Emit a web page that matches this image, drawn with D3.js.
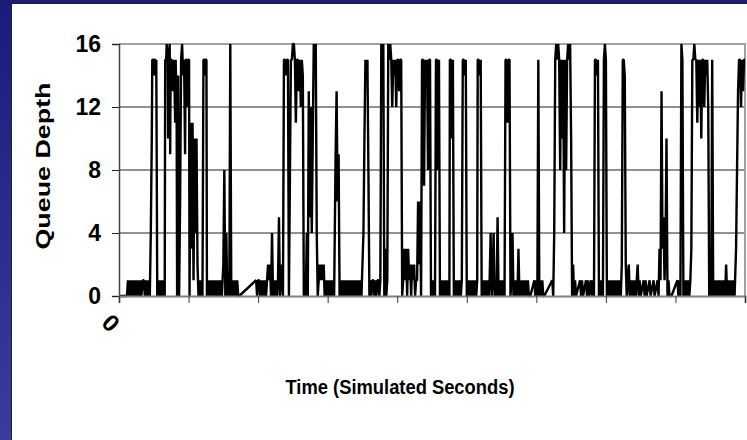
<!DOCTYPE html>
<html>
<head>
<meta charset="utf-8">
<script src="https://cdn.jsdelivr.net/npm/d3@7"></script>
<style>
  html, body { margin: 0; padding: 0; background: #fff; }
  svg { display: block; }
  text { font-family: "Liberation Sans", Arial, sans-serif; font-weight: bold; fill: #000; }
</style>
</head>
<body>
<svg id="chart" width="747" height="440"></svg>
<script>
// queue depth samples, [time, depth]
const span1 = [
  [0,0],[8,0],[9,1],[10,0],[11.5,1],[12.5,0],[14,1],[15,0],[16.5,1],[17.5,0],[19,1],[20,0],[21.5,1],[22.5,0],[24,1],[25,1],[26,0],[27.5,1],[28.5,0],[30,1],[31,0],
  [32,4],[33,10],[33.5,15],[34.5,15],[35,14],[35.5,15],[36.5,15],[37,14],[37.5,15],[38,8],[38.5,0],
  [40,1],[41,0],[42.5,1],[43.5,0],[45,1],[46,0],
  [46.5,15],[47.5,15],[48,16],[49,15],[49.5,10],[50,15],[51,16],[51.5,9],[52,15],[53,15],[53.5,13],[54,15],[55,14],[55.5,15],[56.5,11],[57,15],[58,12],[58.5,0],
  [59.5,14],[60.5,0],[61.5,6],[62.5,15],[63.5,16],[64,15],[65,14],[65.5,15],[66.5,9],[67,15],[68,15],[68.5,12],[69.5,15],[70.5,15],[71,0],
  [72,11],[73,3],[74,11],[75,1],[76,10],[77,4],[78,10],[79,2],[80,0],
  [81,1],[82,0],[83,1],[84,0],
  [85,15],[86,15],[86.5,14],[87,15],[88,15],[88.5,0],
  [90,1],[91,0],[92.5,1],[93.5,0],[95,1],[96,0],[97.5,1],[98.5,0],[100,1],[101,0],[102.5,1],[103.5,0],[105,2],[106,8],[107,0],[108,4],[109,0],[110,1],[111,0],[112,16],[113,0],
  [114,1],[115,0],[116.5,1],[117.5,0],[119,1],[120,0],[121,0]
];
const span2 = [
  [138,1],[139,0],[140,1],[141,1],[142,0],[143,1],[144,0],[145,1],[146,0],[147,1],[148,0],[149,1],[150,2],[151,1],[152,2],[153,0],[154,4],[155,0],
  [156,1],[157,0],[158,1],[159,0],[160,1],[161,5],[162,0],[163,1],[164,2],[165,0],
  [166,15],[167,15],[168,14],[169,15],[170,15],[171,0],
  [173,15],[174,15],[175,16],[176,16],[177,15],[178,11],[179,15],[180,15],[181,13],[182,15],[183,12],[184,15],[185,14],[186,0],
  [187,1],[188,0],[189,4],[190,0],[191,13],[192,5],[193,12],[194,4],[195,10],
  [196,16],[197,15],[198,16],[199,4],[200,0],[201,1],
  [202,2],[203,1],[204,2],[205,1],[206,2],[207,0],
  [208,1],[209,0],[210.5,1],[211.5,0],[213,1],[214,0],[215.5,1],[216.5,0],
  [218,9],[219,13],[220,6],[221,9],[222,0],
  [223,1],[224,0],[225.5,1],[226.5,0],[228,1],[229,0],[230.5,1],[231.5,0],[233,1],[234,0],[235.5,1],[236.5,0],[238,1],[239,0],[240.5,1],[241.5,0],[243,1],[244,0],
  [246,4],[247,10],[248,15],[249,14],[250,15],[251,8]
];
const span3 = [
  [252,0],[253,1],[254,0],[255,1],[256,1],[257,0],[258,1],[259,0],[260,1],[261,1],[262,0],[263,1],
  [264,16],[265,15],[266,16],[267,0],[268,3],[269,0],[270,1],
  [271,16],[272,15],[273,16],[274,15],[275,12],[276,15],[277,14],[278,15],[279,12],[280,15],[281,15],[282,13],[283,15],[284,15],[285,0],[286,1],
  [287,3],[288,1],[289,3],[290,0],[291,3],[292,1],[293,2],[294,0],[295,2],[296,1],[297,2],[298,0],[299,1],[300,1],
  [301,6],[302,2],[303,6],[304,0],
  [305,15],[306,15],[307,7],[308,15],[309,14],[310,15],[311,8],[312,15],[313,15],[314,0],
  [315,1],[316,0],[317,1],[318,0],
  [319,15],[320,15],[321,8],[322,15],[323,0],
  [324,1],[325,0],[326.5,1],[327.5,0],[329,1],[330,0],[331.5,1],[332.5,0],
  [333,15],[334,15],[335,10],[336,15],[337,0],
  [338,1],[339,0],[340.5,1],[341.5,0],[343,1],[344,0],[345,1],
  [346,15],[347,15],[348,14],[349,15],[350,0],
  [351,1],[352,0],[353.5,1],[354.5,0],[356,1],[357,0],[358.5,1],[359.5,0],[360.5,1],
  [361,15],[362,15],[363,14],[364,15],[365,0],
  [366,1],[367,0],[368.5,1],[369.5,0],[371,1],[372,0],[373,1],[374,4],[375,0]
];
const span4 = [
  [376,1],[377,4],[378,0],[379,1],[380,0],[381,5],[382,0],[383,1],[384,0],[385,1],[386,0],[387,1],[388,0],
  [389,15],[390,15],[391,11],[392,15],[393,15],[394,0],
  [395,1],[396,4],[397,0],[398,1],[399,0],[400,1],[401,0],[402,3],[403,0],
  [404,1],[405,0],[406.5,1],[407.5,0],[409,1],[410,0],[411.5,1],[412.5,0],[414,0],[418,1],[419,0],[420,1],[421,0],
  [422,15],[423,0],[424,1],[425,0],[426,1],[427,0],[428,0],[436,1],[437,0],
  [438,4],[439,15],[440,16],[441,15],[442,16],[443,15],[444,8],[445,15],[446,10],[447,15],[448,4],[449,15],[450,8],[451,15],[452,16],[453,15],[454,16],[455,10],[456,0],[457,2],[458,0],
  [459,1],[460,0],[464,1],[465,0],[466,1],[467,0],[470,1],[471,0],[472,1],[473,0],[475,1],[476,0],[477,1],[478,0],
  [479,15],[480,15],[481,14],[482,15],[483,0],
  [484,1],[485,0],[486,1],[487,0],
  [488,15],[489,16],[490,15],[491,0],
  [492,1],[493,0],[494.5,1],[495.5,0],[497,1],[498,0],[499.5,1],[500.5,0]
];
const span5 = [
  [502,1],[503,0],[504,1],[505,0],[506,2],[507,15],[508,15],[509,14],[510,2],[511,0],
  [512,1],[513,2],[514,0],[515,1],[516,0],[517,1],[518,0],[519,1],[520,0],[521,1],[522,2],[523,0],
  [524,1],[525,0],[528,1],[529,0],[530,1],[531,0],[534,1],[535,0],[538,1],[539,0],[542,1],[543,0],
  [544,3],[545,1],[546,13],[547,3],[548,5],[549,1],[550,3],[551,10],[552,0],[553,1],[554,0],[556,0],[562,1],[563,0],[564,1],[565,0],
  [566,16],[567,15],[568,0],
  [569,1],[570,0],[571,1],[572,0],[573,1],[574,0],[575,1],[576,3],
  [577,15],[578,15],[579,16],[580,15],[581,15],[582,11],[583,15],[584,12],[585,15],[586,10],[587,15],[588,15],[589,12],[590,15],[591,14],[592,15],[593,12],[594,0],
  [595,1],[596,0],[597,15],[598,0],
  [599,1],[600,0],[601.5,1],[602.5,0],[604,1],[605,0],[606.5,1],[607.5,0],[609,1],[610,0],[611,2],[612,0],[613.5,1],[614.5,0],[616,1],[617,0],[618.5,1],[619.5,0],
  [621,3],[622,8],[623,13],[624,15],[625,15],[626,12],[627,15],[628,13],[629,15],[630,15]
];

const yTicks = [0, 4, 8, 12, 16];
const xTicks = [0, 70, 140, 210, 280, 350, 420, 490, 560, 630];
const xLabels = ['0'];

const series = [].concat(span1, span2, span3, span4, span5);

const svg = d3.select('#chart');
const W = 747, H = 440;
const plot = { left: 119, right: 745, top: 44, bottom: 296 };

// slide background: blue frame on left and top
const defs = svg.append('defs');
const grad = defs.append('linearGradient')
  .attr('id', 'frame').attr('x1', 0).attr('y1', 0).attr('x2', 0).attr('y2', 1);
grad.append('stop').attr('offset', '0%').attr('stop-color', '#191c7a');
grad.append('stop').attr('offset', '100%').attr('stop-color', '#3a3d9f');

svg.append('rect').attr('width', W).attr('height', H).attr('fill', 'url(#frame)');
svg.append('rect')
  .attr('x', 11.5).attr('y', 3.5).attr('width', W).attr('height', H)
  .attr('fill', '#fff').attr('stroke', '#222').attr('stroke-width', 1);

const x = d3.scaleLinear().domain([0, 630]).range([plot.left, plot.right]);
const y = d3.scaleLinear().domain([0, 16]).range([plot.bottom, plot.top]);

// gridlines
svg.append('g')
  .selectAll('line')
  .data(yTicks.filter(d => d > 0 && d < 16))
  .join('line')
  .attr('x1', plot.left).attr('x2', plot.right)
  .attr('y1', d => y(d)).attr('y2', d => y(d))
  .attr('stroke', '#222').attr('stroke-width', 1);

// plot area border (top + right)
svg.append('path')
  .attr('d', `M${plot.left},${y(16)}H${plot.right}V${plot.bottom}`)
  .attr('fill', 'none').attr('stroke', '#a0a0a0').attr('stroke-width', 2);

// the series
const line = d3.line().x(d => x(d[0])).y(d => y(d[1]));
svg.append('path')
  .datum(series)
  .attr('d', line)
  .attr('fill', 'none')
  .attr('stroke', '#000')
  .attr('stroke-width', 2.4)
  .attr('stroke-linejoin', 'bevel');

// y axis
const yAxis = svg.append('g')
  .attr('transform', `translate(${plot.left},0)`)
  .call(d3.axisLeft(y).tickValues(yTicks).tickSize(7).tickPadding(11));
yAxis.select('.domain').attr('stroke', '#444').attr('stroke-width', 1.5);
yAxis.selectAll('.tick line').attr('stroke', '#222');
yAxis.selectAll('.tick text')
  .attr('font-size', 23)
  .attr('font-family', '"Liberation Sans", Arial, sans-serif')
  .attr('font-weight', 'bold')
  .attr('fill', '#000');

// x axis
const xAxis = svg.append('g')
  .attr('transform', `translate(0,${plot.bottom})`)
  .call(d3.axisBottom(x).tickValues(xTicks).tickSize(7).tickFormat(() => ''));
xAxis.select('.domain').attr('stroke', '#808080').attr('stroke-width', 2);
xAxis.selectAll('.tick line').attr('stroke', '#333');

svg.append('g')
  .selectAll('text')
  .data(xLabels)
  .join('text')
  .attr('transform', d => `translate(${x(+d) - 8},${plot.bottom + 27}) rotate(45)`)
  .attr('text-anchor', 'middle')
  .attr('dominant-baseline', 'central')
  .attr('font-size', 24)
  .text(d => d);

// axis titles
svg.append('text')
  .attr('transform', 'translate(50,166) rotate(-90)')
  .attr('text-anchor', 'middle')
  .attr('font-size', 21)
  .attr('textLength', 167)
  .attr('lengthAdjust', 'spacingAndGlyphs')
  .text('Queue Depth');

svg.append('text')
  .attr('x', 400).attr('y', 394)
  .attr('text-anchor', 'middle')
  .attr('font-size', 20)
  .attr('textLength', 229)
  .attr('lengthAdjust', 'spacingAndGlyphs')
  .text('Time (Simulated Seconds)');
</script>
</body>
</html>
